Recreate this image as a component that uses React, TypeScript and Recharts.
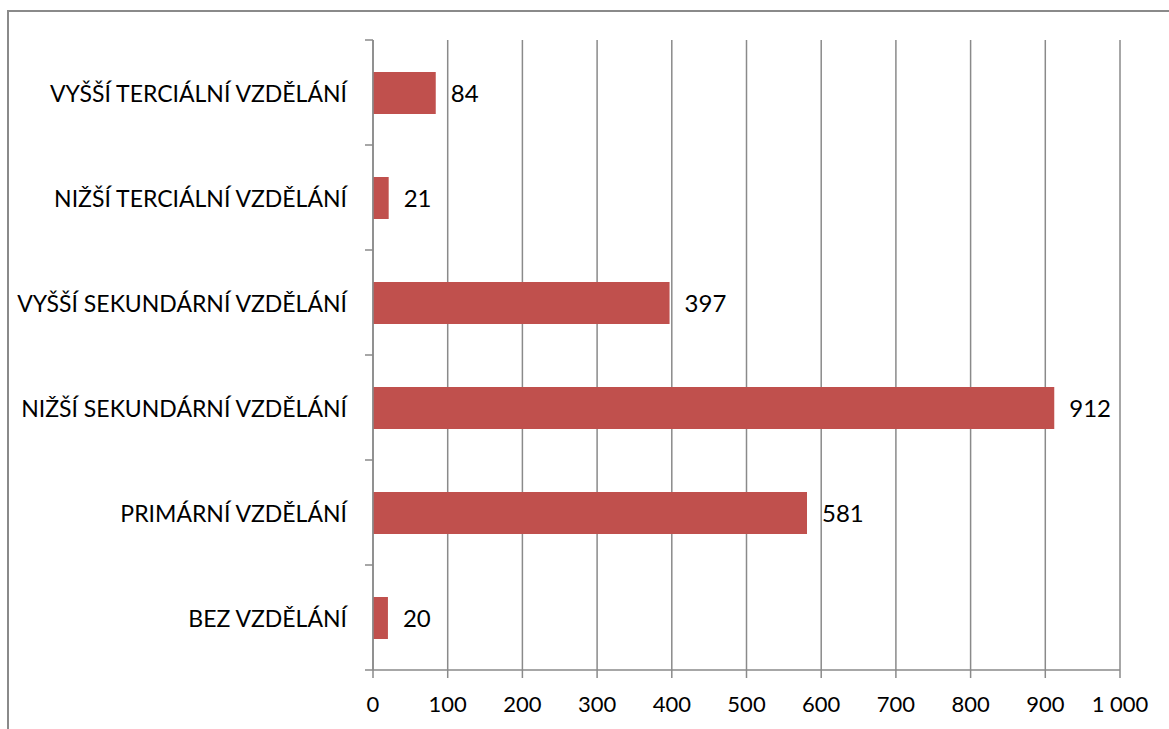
import React from "react";
import { BarChart, Bar, XAxis, YAxis, CartesianGrid, LabelList } from "recharts";

const categories = [
  "VYŠŠÍ TERCIÁLNÍ VZDĚLÁNÍ",
  "NIŽŠÍ TERCIÁLNÍ VZDĚLÁNÍ",
  "VYŠŠÍ SEKUNDÁRNÍ VZDĚLÁNÍ",
  "NIŽŠÍ SEKUNDÁRNÍ VZDĚLÁNÍ",
  "PRIMÁRNÍ VZDĚLÁNÍ",
  "BEZ VZDĚLÁNÍ",
];
const values = [84, 21, 397, 912, 581, 20];
const xTicks = [0, 100, 200, 300, 400, 500, 600, 700, 800, 900, 1000];

const data = categories.map((name, i) => ({ name, value: values[i] }));

const FONT = "Lato, 'Open Sans', sans-serif";
const LINE = "#8a8a8a";
const W = 1169;
const H = 729;
const X_AXIS_H = 59;
const M = { top: 40, right: 49, bottom: 0, left: 0 };
const BAND_HALF = (H - M.top - M.bottom - X_AXIS_H) / categories.length / 2;

const fmt = (v: number) => (v >= 1000 ? `${Math.floor(v / 1000)} ${String(v % 1000).padStart(3, "0")}` : String(v));

const CatTick = (props: any) => {
  const { x, y, payload, index } = props;
  return (
    <g>
      <line x1={x - 8} x2={x} y1={y - BAND_HALF} y2={y - BAND_HALF} stroke={LINE} strokeWidth={1.5} />
      {index === categories.length - 1 && (
        <line x1={x - 8} x2={x} y1={y + BAND_HALF} y2={y + BAND_HALF} stroke={LINE} strokeWidth={1.5} />
      )}
      <text x={x - 26} y={y} textAnchor="end" dominantBaseline="central" fontFamily={FONT} fontSize={23} fill="#000">
        {payload.value}
      </text>
    </g>
  );
};

export default function App() {
  return (
    <div style={{ position: "absolute", left: 0, top: 0, width: W, height: H, overflow: "hidden", background: "#fff" }}>
      <div
        style={{
          position: "absolute",
          left: 7,
          top: 10,
          width: W,
          height: H,
          borderLeft: `2px solid ${LINE}`,
          borderTop: `2px solid ${LINE}`,
        }}
      />
      <div style={{ position: "absolute", left: 0, top: 0 }}>
        <BarChart width={W} height={H} data={data} layout="vertical" margin={M}>
          <CartesianGrid horizontal={false} vertical={true} stroke={LINE} strokeWidth={1.5} />
          <XAxis
            type="number"
            domain={[0, 1000]}
            ticks={xTicks}
            tickFormatter={fmt}
            interval={0}
            height={X_AXIS_H}
            tickSize={8}
            tickMargin={18}
            axisLine={{ stroke: LINE, strokeWidth: 1.5 }}
            tickLine={{ stroke: LINE, strokeWidth: 1.5 }}
            tick={{ fill: "#000", fontFamily: FONT, fontSize: 22 }}
          />
          <YAxis
            type="category"
            dataKey="name"
            width={373}
            tickSize={0}
            tickMargin={0}
            tickLine={false}
            interval={0}
            axisLine={{ stroke: LINE, strokeWidth: 1.5 }}
            tick={<CatTick />}
          />
          <Bar dataKey="value" fill="#C0504D" barSize={42} isAnimationActive={false}>
            <LabelList dataKey="value" position="right" offset={15} fill="#000" fontFamily={FONT} fontSize={24} />
          </Bar>
        </BarChart>
      </div>
    </div>
  );
}
